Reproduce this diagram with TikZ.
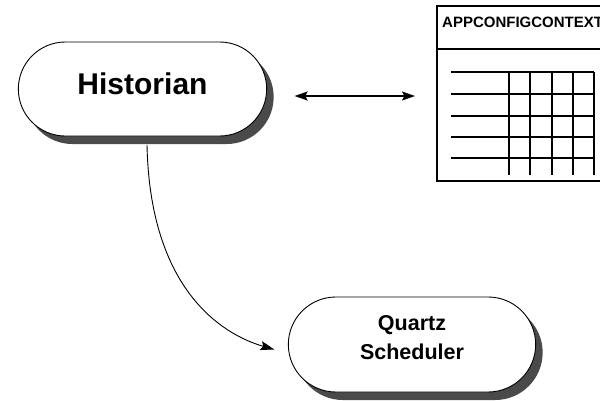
\documentclass[tikz,border=0pt]{standalone}
\usepackage{fontspec}
\setmainfont{Liberation Sans}
\usepackage{xcolor}
\usepackage{tikz}
\usetikzlibrary{arrows.meta,positioning,shapes.misc,shadows,calc}
\definecolor{ink}{HTML}{000000}
\definecolor{shadowgrey}{HTML}{4A4A4A}
\tikzset{
  pill/.style={rounded rectangle, draw=ink, fill=white, line width=0.9pt, align=center, outer sep=0pt,
    drop shadow={shadow xshift=7pt, shadow yshift=-8pt, fill=shadowgrey, opacity=1}},
  pillbig/.style={pill, font=\bfseries\fontsize{30}{36}\selectfont},
  pillsmall/.style={pill, font=\bfseries\fontsize{21.5}{29}\selectfont},
  tablebox/.style={draw=ink, fill=white, line width=1.5pt, outer sep=0pt, inner sep=0pt},
  tabletitle/.style={font=\bfseries\fontsize{15}{18}\selectfont, inner sep=0pt},
  gridline/.style={line width=1.6pt, ink},
  dblarrow/.style={{Stealth[length=13pt,width=9pt,inset=2.5pt]}-{Stealth[length=13pt,width=9pt,inset=2.5pt]}, line width=1.8pt, ink},
  curvearrow/.style={-{Stealth[length=14pt,width=9pt,inset=2.5pt]}, line width=0.9pt, ink},
}
\begin{document}
\begin{tikzpicture}[x=1pt,y=-1pt]
  \useasboundingbox (0,0) rectangle (600,400);
  \node[pillbig, minimum width=255pt, minimum height=94pt, text depth=10pt] (hist) at (142.5,89) {Historian};
  \node[pillsmall, minimum width=254pt, minimum height=95pt, text depth=14pt] (quartz) at (412,344.5) {Quartz\\Scheduler};
  % config context table
  \node[tablebox, minimum width=183pt, minimum height=175pt] (ctx) at (528.5,93.5) {};
  \node[tabletitle, anchor=base west] (ctxname) at (442,27) {APPCONFIGCONTEXT};
  \draw[tablebox] (ctx.west |- 0,49) -- (ctx.east |- 0,49);
  \foreach \y in {72,94,116,137,158}
    \draw[gridline] (451,\y) -- (594,\y);
  \foreach \x in {509,530,552,573,594}
    \draw[gridline] (\x,72) -- (\x,175);
  \draw[dblarrow, shorten <=28pt, shorten >=22pt] ([yshift=-7pt]hist.east) -- ([yshift=-7pt]hist.east -| ctx.west);
  \draw[curvearrow] ([xshift=4.5pt,yshift=-9pt]hist.south) .. controls +(3,145) and +(-52,-15) .. ([xshift=-14pt,yshift=-5pt]quartz.west);
\end{tikzpicture}
\end{document}
